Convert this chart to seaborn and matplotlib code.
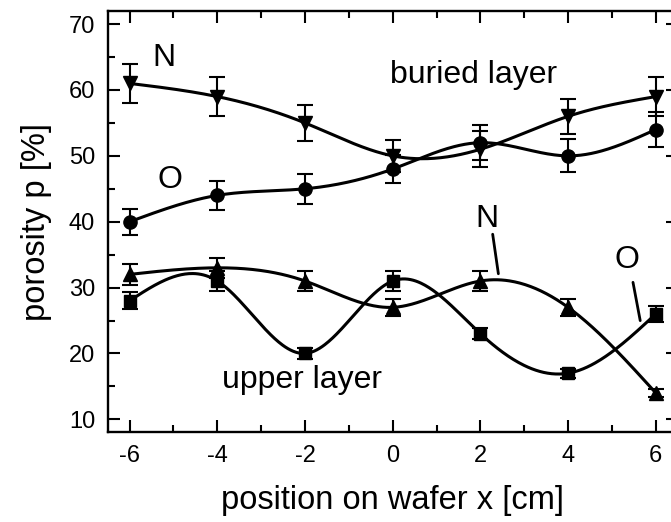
import numpy as np
import matplotlib
matplotlib.use('Agg')
import matplotlib.pyplot as plt
import seaborn as sns

# 측정 위치 (cm)
x = [-6, -4, -2, 0, 2, 4, 6]

# buried layer
buried_n = [61, 59, 55, 50, 51, 56, 59]
buried_n_err = [3.0, 3.0, 2.7, 2.4, 2.7, 2.7, 3.0]
buried_o = [40, 44, 45, 48, 52, 50, 54]
buried_o_err = [2.0, 2.2, 2.3, 2.1, 2.7, 2.5, 2.6]

# upper layer
upper_n = [32, 33, 31, 27, 31, 27, 14]
upper_n_err = [1.6, 1.5, 1.5, 1.3, 1.5, 1.3, 0.6]
upper_o = [28, 31, 20, 31, 23, 17, 26]
upper_o_err = [1.3, 1.5, 0.8, 1.5, 0.8, 0.7, 1.2]


def spline(xp, yp, n=400):
    # natural cubic spline (연결선용)
    xp = np.asarray(xp, float)
    yp = np.asarray(yp, float)
    h = np.diff(xp)
    k = len(xp)
    A = np.zeros((k, k))
    b = np.zeros(k)
    A[0, 0] = A[-1, -1] = 1
    for i in range(1, k - 1):
        A[i, i - 1] = h[i - 1]
        A[i, i] = 2 * (h[i - 1] + h[i])
        A[i, i + 1] = h[i]
        b[i] = 6 * ((yp[i + 1] - yp[i]) / h[i] - (yp[i] - yp[i - 1]) / h[i - 1])
    M = np.linalg.solve(A, b)
    xs = np.linspace(xp[0], xp[-1], n)
    idx = np.clip(np.searchsorted(xp, xs) - 1, 0, k - 2)
    x0, x1 = xp[idx], xp[idx + 1]
    hh = x1 - x0
    ys = (M[idx] * (x1 - xs) ** 3 / (6 * hh) + M[idx + 1] * (xs - x0) ** 3 / (6 * hh)
          + (yp[idx] / hh - M[idx] * hh / 6) * (x1 - xs)
          + (yp[idx + 1] / hh - M[idx + 1] * hh / 6) * (xs - x0))
    return xs, ys


sns.set_style('ticks')
plt.rcParams['font.family'] = ['Liberation Sans', 'DejaVu Sans']
plt.rcParams['axes.unicode_minus'] = False
for key in ['text.color', 'axes.labelcolor', 'xtick.color', 'ytick.color', 'axes.edgecolor']:
    plt.rcParams[key] = 'black'

fig = plt.figure(figsize=(6.71, 5.22), dpi=100)
ax = fig.add_axes([0.1605, 0.1715, 0.8495, 0.8075])

series = [
    (buried_n, buried_n_err, 'v', 10.5),
    (buried_o, buried_o_err, 'o', 9.5),
    (upper_n, upper_n_err, '^', 10.5),
    (upper_o, upper_o_err, 's', 9.0),
]
for vals, err, mk, ms in series:
    xs, ys = spline(x, vals)
    sns.lineplot(x=xs, y=ys, ax=ax, color='black', linewidth=2.2, sort=False)
    ax.errorbar(x, vals, yerr=err, fmt=mk, color='black', markersize=ms,
                elinewidth=1.5, capsize=6, capthick=1.5, zorder=3)

ax.set_xlim(-6.5, 6.5)
ax.set_ylim(8, 72)
ax.set_xticks([-6, -4, -2, 0, 2, 4, 6])
ax.set_xticks([-5, -3, -1, 1, 3, 5], minor=True)
ax.set_yticks([10, 20, 30, 40, 50, 60, 70])
ax.set_yticks([15, 25, 35, 45, 55, 65], minor=True)
ax.tick_params(which='both', direction='in', top=True, right=True,
               width=1.5, labelsize=17, pad=9)
ax.tick_params(which='major', length=8.5)
ax.tick_params(which='minor', length=4.7)
for s in ax.spines.values():
    s.set_linewidth(1.7)

ax.set_xlabel('position on wafer x [cm]', fontsize=23.5, labelpad=13)
ax.set_ylabel('porosity p [%]', fontsize=23.5, labelpad=12)

ax.text(-5.22, 64.8, 'N', fontsize=23, ha='center', va='center')
ax.text(-5.08, 46.3, 'O', fontsize=23, ha='center', va='center')
ax.text(1.85, 61.0, 'buried layer', fontsize=23, ha='center', va='baseline')
ax.text(-2.06, 14.7, 'upper layer', fontsize=23, ha='center', va='baseline')
ax.text(2.16, 39.25, 'N', fontsize=23, ha='center', va='baseline')
ax.text(5.34, 32.9, 'O', fontsize=23, ha='center', va='baseline')
ax.plot([2.28, 2.41], [38.1, 32.1], color='black', linewidth=2.0)
ax.plot([5.48, 5.645], [30.8, 24.98], color='black', linewidth=2.0)

fig.savefig('out.png', dpi=100)
